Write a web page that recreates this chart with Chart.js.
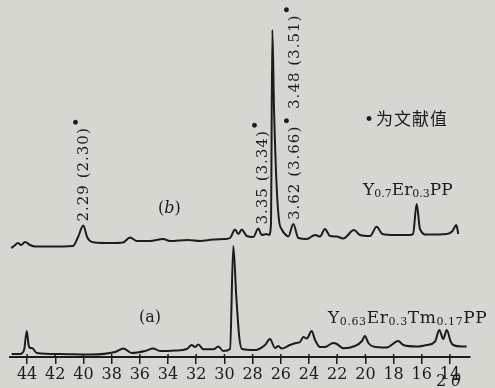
<!DOCTYPE html>
<html><head><meta charset="utf-8">
<script src="https://cdn.jsdelivr.net/npm/chart.js@4.4.1/dist/chart.umd.min.js"></script>
<style>html,body{margin:0;padding:0;background:#d7d7d2;overflow:hidden}canvas{display:block}</style>
</head><body>
<canvas id="c" width="495" height="388"></canvas>
<script>
// ---- data ----
const tickLabels = [44,42,40,38,36,34,32,30,28,26,24,22,20,18,16,14];

// curve (a): Y0.63Er0.3Tm0.17PP
const twoThetaA = [45.09,44.50,44.21,44.02,43.89,43.79,43.65,43.31,41.66,39.53,37.76,37.17,36.57,35.63,35.04,34.57,33.50,32.67,32.32,32.09,31.85,31.50,30.79,30.43,30.08,29.60,29.37,29.16,28.94,28.75,27.83,27.12,26.77,26.41,26.18,25.94,25.35,24.92,24.64,24.40,24.16,23.81,23.57,23.22,22.87,22.28,22.02,21.57,20.74,20.24,20.04,19.79,19.44,18.49,17.67,17.31,16.36,15.65,15.06,14.76,14.48,14.23,13.95,13.77,13.17,12.82];
const intensityA = [3,3,7,26,12,9,9,4,3,2.5,5,8.5,4,6,8.5,6,6.5,8,12,10,12.5,7.7,7.7,10.5,6,8,111,61,19,8,7,12,18,9,11,8.5,12,14,15,20,18.5,26,17,10,10,14,13,8.7,11,16,21,14,10.5,9.5,16,12,10.5,12,15.5,27,18,27,15.5,12,10.5,10.5];

// curve (b): Y0.7Er0.3PP
const twoThetaB = [45.13,44.92,44.64,44.43,44.14,43.79,43.43,42.37,40.74,40.38,40.01,39.74,39.53,39.18,38.11,37.19,36.70,36.20,35.28,34.35,33.86,32.58,31.73,30.81,29.96,29.60,29.25,29.01,28.77,28.42,27.95,27.60,27.35,27.00,26.84,26.70,26.60,26.48,26.30,26.13,25.91,25.70,25.47,25.11,24.76,24.16,23.57,23.22,22.87,22.51,22.04,21.57,20.81,20.38,19.67,19.20,18.79,17.90,16.84,16.62,16.36,16.13,15.65,14.23,13.82,13.55,13.41];
const intensityB = [4,6,9,7,10,7,5.5,5.5,6,15,26.5,15,11,9.5,9,9.5,14.5,11,11,13,11,12,11,12.5,13,14,22.5,18,22.5,16,15,23.5,17,18,17,27,222,142,67,32,22,18,15.5,28,14,13,17,15.5,23,16,15.5,13.5,22,17,16,25.3,18,17,17,18,48,23,17.5,18,21,27,18];
const B_OFFSET = 105; // vertical shift of curve (b) above curve (a)

// annotated peaks on curve (b): 2θ position, and label parts
const peakNoteTheta = [40.01, 27.60, 25.11];
const peakNoteText = [
  [['2.29 (2.30)',0],['•',2]],
  [['3.35 (3.34)',0],['•',2]],
  [['3.62 (3.66)',0],['•',2],[' 3.48 (3.51)',0],['•',2]]
];
const peakNoteDx = [-1, 3, 0];

const INK = '#1c1c1c';
const SERIF = '"DejaVu Serif", "Liberation Serif", serif';

function pts(xs, ys, off) { return xs.map((x,i)=>({x:x, y:ys[i]+off})); }

// parts: [text, kind] kind 0 normal, 1 subscript, 3 italic
function runs(ctx, parts, x, y, main, sub, ital) {
  let cx = x;
  for (const [t,k] of parts) {
    ctx.font = k===1 ? sub : (k===3 ? ital : main);
    ctx.fillText(t, cx, y + (k===1 ? 1.5 : 0));
    cx += ctx.measureText(t).width;
  }
}

const textPlugin = {
  id: 'texts',
  afterDraw(chart) {
    const ctx = chart.ctx, xs = chart.scales.x, ys = chart.scales.y;
    ctx.save();
    ctx.fillStyle = INK; ctx.strokeStyle = INK;
    // small upward part of x ticks
    ctx.lineWidth = 1.5;
    const ay = chart.chartArea.bottom;
    tickLabels.forEach(v => { const px = xs.getPixelForValue(v); ctx.beginPath(); ctx.moveTo(px, ay-3); ctx.lineTo(px, ay); ctx.stroke(); });

    // rotated peak notes
    const fs = 15;
    peakNoteTheta.forEach((th, i) => {
      const idx = twoThetaB.indexOf(th);
      const px = xs.getPixelForValue(th) + peakNoteDx[i];
      const py = ys.getPixelForValue(intensityB[idx] + B_OFFSET) - 4;
      ctx.save();
      ctx.translate(px, py);
      ctx.rotate(-Math.PI/2);
      try { ctx.letterSpacing = '1px'; } catch(e) {}
      ctx.textBaseline = 'alphabetic'; ctx.textAlign = 'left';
      let cx = 0;
      for (const [t,k] of peakNoteText[i]) {
        if (k === 2) { ctx.font = '17px ' + SERIF; ctx.fillText(t, cx, 0.36*fs - 5.5); }
        else { ctx.font = fs + 'px ' + SERIF; ctx.fillText(t, cx, 0.36*fs); }
        cx += ctx.measureText(t).width;
      }
      ctx.restore();
    });

    ctx.textBaseline = 'alphabetic'; ctx.textAlign = 'left';
    // legend note
    ctx.font = '17px ' + SERIF;
    ctx.fillText('•', 364, 125);
    ctx.font = '17px "Noto Sans CJK SC", sans-serif';
    try { ctx.letterSpacing = '1px'; } catch(e) {}
    ctx.textBaseline = 'middle';
    ctx.fillText('为文献值', 376, 119);
    try { ctx.letterSpacing = '0px'; } catch(e) {}
    ctx.textBaseline = 'alphabetic';

    // formula labels
    runs(ctx, [['Y',0],['0.7',1],['Er',0],['0.3',1],['PP',0]], 363, 195, '17px ' + SERIF, '11px ' + SERIF);
    try { ctx.letterSpacing = '0.6px'; } catch(e) {}
    runs(ctx, [['Y',0],['0.63',1],['Er',0],['0.3',1],['Tm',0],['0.17',1],['PP',0]], 328, 323, '17px ' + SERIF, '11px ' + SERIF);
    try { ctx.letterSpacing = '0px'; } catch(e) {}

    // curve tags
    ctx.font = '16px ' + SERIF; ctx.textAlign = 'center';
    ctx.fillText('(a)', 150, 322);
    ctx.textAlign = 'left';
    runs(ctx, [['(',0],['b',3],[')',0]], 158, 213, '16px ' + SERIF, '16px ' + SERIF, 'italic 16px ' + SERIF);
    // axis title
    runs(ctx, [['2 ',0],['θ',3]], 436, 386, '16px ' + SERIF, '16px ' + SERIF, 'italic 16px ' + SERIF);
    ctx.restore();
  }
};

new Chart(document.getElementById('c'), {
  type: 'line',
  data: {
    datasets: [
      { data: pts(twoThetaA, intensityA, 0), borderColor: INK, borderWidth: 2, pointRadius: 0, cubicInterpolationMode: 'monotone', fill: false },
      { data: pts(twoThetaB, intensityB, B_OFFSET), borderColor: INK, borderWidth: 2, pointRadius: 0, cubicInterpolationMode: 'monotone', fill: false }
    ]
  },
  options: {
    responsive: false, animation: false, devicePixelRatio: 1,
    layout: { padding: { left: 10, right: 25, top: 0, bottom: 0 } },
    plugins: { legend: { display: false }, tooltip: { enabled: false } },
    scales: {
      x: {
        type: 'linear', reverse: true, min: 12.58, max: 45.21,
        afterBuildTicks: s => { s.ticks = tickLabels.map(v => ({ value: v })); },
        afterFit: s => { s.height = 31; },
        ticks: { color: INK, font: { family: '"DejaVu Serif"', size: 16 }, padding: 1, maxRotation: 0, autoSkip: false, callback: v => String(v) },
        grid: { drawOnChartArea: false, drawTicks: true, tickLength: 7, color: INK, lineWidth: 1.5 },
        border: { display: true, color: INK, width: 2 }
      },
      y: { display: false, min: 0, max: 357 }
    }
  },
  plugins: [textPlugin]
});
</script>
</body></html>
